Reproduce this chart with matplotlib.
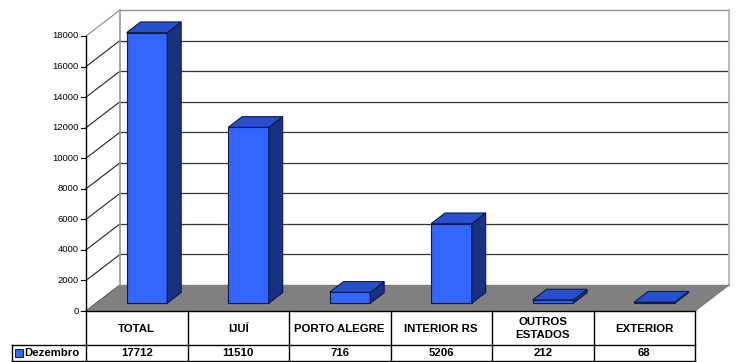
import matplotlib
matplotlib.use("Agg")
import matplotlib.pyplot as plt

plt.rcParams['font.family'] = ['Liberation Sans', 'DejaVu Sans']

# data
categories = ["TOTAL", "IJUÍ", "PORTO ALEGRE", "INTERIOR RS", "OUTROS\nESTADOS", "EXTERIOR"]
values = [17712, 11510, 716, 5206, 212, 68]
series_name = "Dezembro"
yticks = [0, 2000, 4000, 6000, 8000, 10000, 12000, 14000, 16000, 18000]
ymax = 18000

# layout (pixels)
W, H = 736, 362
x0, y0 = 86, 311          # front axis origin
plot_h = 275              # pixels for ymax at the front
ddx, ddy = 34, -26        # full depth offset
cell_w = (695 - 86) / len(categories)
bar_w = 0.40
depth_a, depth_b = 0.30, 0.71

face_c = "#3366FF"
top_c = "#2850CC"
side_c = "#1A3180"
edge_c = "#0A1A50"


def proj(xp, val, d):
    # xp: x pixel at front, val: data value, d: depth fraction 0..1
    return xp + d * ddx, y0 - val / ymax * plot_h + d * ddy


fig = plt.figure(figsize=(W / 100, H / 100), dpi=100)
ax = fig.add_axes([0, 0, 1, 1])
ax.set_xlim(0, W)
ax.set_ylim(H, 0)
ax.axis("off")

x_right = x0 + cell_w * len(categories)

# back wall gridlines + side wall diagonals
for t in yticks:
    bx1, by = proj(x0, t, 1)
    bx2, _ = proj(x_right, t, 1)
    col = "#888888" if t == ymax else "#333333"
    ax.plot([bx1, bx2], [by, by], color=col, lw=0.9, zorder=1)
    fx, fy = proj(x0, t, 0)
    ax.plot([fx, bx1], [fy, by], color=col if t == ymax else "#222222", lw=0.8, zorder=1)
    ax.plot([fx - 5, fx], [fy, fy], color="black", lw=0.8, zorder=3)
    ax.text(fx - 7, fy, str(t), ha="right", va="center", fontsize=6.8, color="black")

# back wall edges
bx1, bt = proj(x0, ymax, 1)
bx2, bb = proj(x_right, 0, 1)
ax.plot([bx1, bx1], [bt, bb], color="#999999", lw=1.2, zorder=1)
ax.plot([bx2, bx2], [bt, bb], color="#bbbbbb", lw=1.5, zorder=1)

# floor
fl = [proj(x0, 0, 0), proj(x_right, 0, 0), proj(x_right, 0, 1), proj(x0, 0, 1)]
ax.fill([p[0] for p in fl], [p[1] for p in fl], color="#808080", zorder=2, lw=0)
ax.plot([fl[1][0], fl[2][0]], [fl[1][1], fl[2][1]], color="#777777", lw=0.8, zorder=2)

# front axis
ax.plot([x0, x0], [proj(x0, ymax, 0)[1], y0], color="black", lw=1, zorder=3)

# bars
for i, v in enumerate(values):
    xl = x0 + i * cell_w + cell_w * (1 - bar_w) / 2
    xr = xl + cell_w * bar_w
    fbl = proj(xl, 0, depth_a)
    fbr = proj(xr, 0, depth_a)
    ftl = proj(xl, v, depth_a)
    ftr = proj(xr, v, depth_a)
    bbr = proj(xr, 0, depth_b)
    btl = proj(xl, v, depth_b)
    btr = proj(xr, v, depth_b)
    front = [fbl, fbr, ftr, ftl]
    side = [fbr, bbr, btr, ftr]
    top = [ftl, ftr, btr, btl]
    for poly, c in [(front, face_c), (side, side_c), (top, top_c)]:
        ax.fill([p[0] for p in poly], [p[1] for p in poly], facecolor=c,
                edgecolor=edge_c, lw=0.8, zorder=4, joinstyle="miter")

# data table
row1_top, row1_bot, row2_bot = y0, 345, 361
lab_left = 12
ax.plot([x0, x_right], [row1_top, row1_top], color="black", lw=1, zorder=5)
ax.plot([lab_left, x_right], [row1_bot, row1_bot], color="black", lw=1, zorder=5)
ax.plot([lab_left, x_right], [row2_bot, row2_bot], color="black", lw=1, zorder=5)
ax.plot([lab_left, lab_left], [row1_bot, row2_bot], color="black", lw=1, zorder=5)
for i in range(len(categories) + 1):
    xc = x0 + i * cell_w
    ax.plot([xc, xc], [row1_top, row2_bot], color="black", lw=1, zorder=5)

for i, (c, v) in enumerate(zip(categories, values)):
    xc = x0 + (i + 0.5) * cell_w
    ax.text(xc, (row1_top + row1_bot) / 2 + 0.5, c, ha="center", va="center",
            fontsize=8.2, fontweight="bold", linespacing=1.3)
    ax.text(xc, (row1_bot + row2_bot) / 2 + 0.5, f"{v}", ha="center", va="center",
            fontsize=8.2, fontweight="bold")

# legend key
ym = (row1_bot + row2_bot) / 2
ax.fill([15, 23, 23, 15], [ym - 4, ym - 4, ym + 4, ym + 4],
        facecolor=face_c, edgecolor=edge_c, lw=0.7, zorder=5)
ax.text(24.5, ym + 0.5, series_name, ha="left", va="center", fontsize=8.2, fontweight="bold")

fig.savefig("out.png", dpi=100)
